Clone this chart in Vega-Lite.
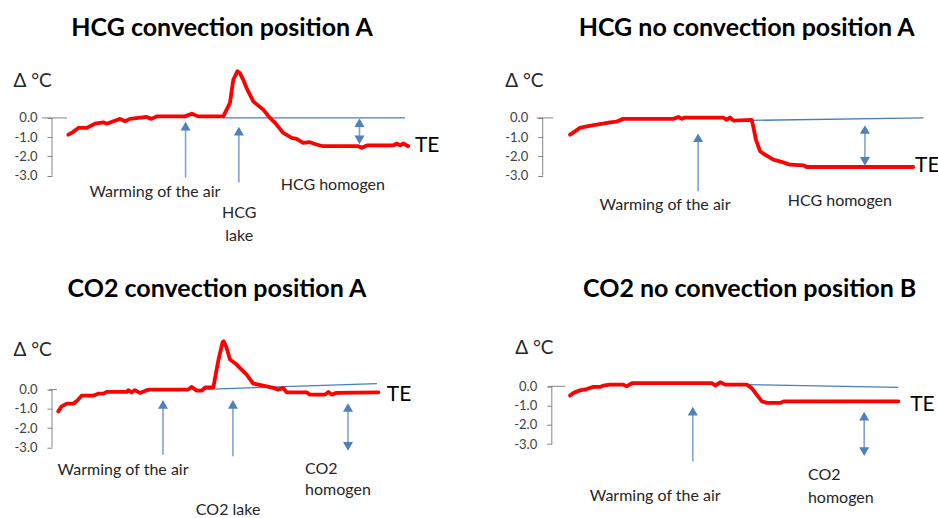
{
  "$schema": "https://vega.github.io/schema/vega-lite/v6.json",
  "padding": {"left": 13, "top": 16, "right": 0, "bottom": 0},
  "background": "white",
  "bounds": "flush",
  "columns": 2,
  "spacing": {"row": 90.7, "column": 120.7},
  "config": {
    "font": "Lato",
    "view": {"stroke": null},
    "title": {"fontSize": 25, "fontWeight": "bold", "color": "#000000", "frame": "group", "anchor": "middle", "font": "Lato"},
    "axis": {"labelFont": "Lato", "labelFontSize": 13, "labelColor": "#404040", "domain": false, "grid": false, "tickColor": "#868686", "tickSize": 5, "labelPadding": 10, "titleFont": "Lato", "titleFontSize": 19, "titleFontWeight": "normal", "titleColor": "#262626", "titleAngle": 0, "titleAlign": "left", "titleBaseline": "middle"}
  },
  "datasets": {
    "curves": [
      {"p":"TL","s":"red","x":4.4,"y":-0.87},{"p":"TL","s":"red","x":5.3,"y":-0.78},{"p":"TL","s":"red","x":7.1,"y":-0.52},{"p":"TL","s":"red","x":9.4,"y":-0.52},{"p":"TL","s":"red","x":11.6,"y":-0.30},{"p":"TL","s":"red","x":13.9,"y":-0.23},{"p":"TL","s":"red","x":14.8,"y":-0.30},{"p":"TL","s":"red","x":16.6,"y":-0.17},{"p":"TL","s":"red","x":18.4,"y":-0.05},{"p":"TL","s":"red","x":19.7,"y":-0.17},{"p":"TL","s":"red","x":21.1,"y":-0.05},{"p":"TL","s":"red","x":25.6,"y":0.05},{"p":"TL","s":"red","x":26.9,"y":-0.05},{"p":"TL","s":"red","x":28.3,"y":0.08},{"p":"TL","s":"red","x":35.9,"y":0.08},{"p":"TL","s":"red","x":37.8,"y":0.22},{"p":"TL","s":"red","x":39.5,"y":0.08},{"p":"TL","s":"red","x":46.3,"y":0.08},{"p":"TL","s":"red","x":48.1,"y":0.78},{"p":"TL","s":"red","x":49.0,"y":1.98},{"p":"TL","s":"red","x":50.1,"y":2.42},{"p":"TL","s":"red","x":50.8,"y":2.33},{"p":"TL","s":"red","x":51.7,"y":1.98},{"p":"TL","s":"red","x":52.6,"y":1.55},{"p":"TL","s":"red","x":54.4,"y":0.86},{"p":"TL","s":"red","x":57.1,"y":0.43},{"p":"TL","s":"red","x":58.9,"y":0.0},{"p":"TL","s":"red","x":60.3,"y":-0.26},{"p":"TL","s":"red","x":62.5,"y":-0.78},{"p":"TL","s":"red","x":64.8,"y":-1.04},{"p":"TL","s":"red","x":66.1,"y":-1.09},{"p":"TL","s":"red","x":67.9,"y":-1.30},{"p":"TL","s":"red","x":69.7,"y":-1.26},{"p":"TL","s":"red","x":71.5,"y":-1.38},{"p":"TL","s":"red","x":73.3,"y":-1.47},{"p":"TL","s":"red","x":82.8,"y":-1.47},{"p":"TL","s":"red","x":83.7,"y":-1.55},{"p":"TL","s":"red","x":85.1,"y":-1.43},{"p":"TL","s":"red","x":92.2,"y":-1.43},{"p":"TL","s":"red","x":93.2,"y":-1.33},{"p":"TL","s":"red","x":94.1,"y":-1.43},{"p":"TL","s":"red","x":94.9,"y":-1.33},{"p":"TL","s":"red","x":96.3,"y":-1.47},
      {"p":"TL","s":"base","x":46.2,"y":0},{"p":"TL","s":"base","x":95.4,"y":0},
      {"p":"TR","s":"red","x":7.2,"y":-0.87},{"p":"TR","s":"red","x":8.1,"y":-0.75},{"p":"TR","s":"red","x":9.8,"y":-0.52},{"p":"TR","s":"red","x":11.6,"y":-0.44},{"p":"TR","s":"red","x":14.2,"y":-0.35},{"p":"TR","s":"red","x":15.9,"y":-0.30},{"p":"TR","s":"red","x":17.7,"y":-0.23},{"p":"TR","s":"red","x":19.5,"y":-0.19},{"p":"TR","s":"red","x":21.2,"y":-0.05},{"p":"TR","s":"red","x":34.4,"y":-0.05},{"p":"TR","s":"red","x":35.7,"y":0.05},{"p":"TR","s":"red","x":36.6,"y":-0.05},{"p":"TR","s":"red","x":37.4,"y":0.02},{"p":"TR","s":"red","x":47.5,"y":0.02},{"p":"TR","s":"red","x":48.4,"y":-0.10},{"p":"TR","s":"red","x":49.3,"y":0.02},{"p":"TR","s":"red","x":50.2,"y":-0.14},{"p":"TR","s":"red","x":55.0,"y":-0.10},{"p":"TR","s":"red","x":55.4,"y":-0.44},{"p":"TR","s":"red","x":56.1,"y":-1.13},{"p":"TR","s":"red","x":57.2,"y":-1.73},{"p":"TR","s":"red","x":58.5,"y":-1.91},{"p":"TR","s":"red","x":60.7,"y":-2.17},{"p":"TR","s":"red","x":63.3,"y":-2.31},{"p":"TR","s":"red","x":65.1,"y":-2.43},{"p":"TR","s":"red","x":68.6,"y":-2.46},{"p":"TR","s":"red","x":69.5,"y":-2.55},{"p":"TR","s":"red","x":97.5,"y":-2.55},
      {"p":"TR","s":"base","x":51.1,"y":-0.14},{"p":"TR","s":"base","x":100.2,"y":0},
      {"p":"BL","s":"red","x":1.7,"y":-1.13},{"p":"BL","s":"red","x":2.6,"y":-0.87},{"p":"BL","s":"red","x":4.0,"y":-0.73},{"p":"BL","s":"red","x":5.8,"y":-0.73},{"p":"BL","s":"red","x":7.1,"y":-0.52},{"p":"BL","s":"red","x":8.0,"y":-0.31},{"p":"BL","s":"red","x":11.2,"y":-0.31},{"p":"BL","s":"red","x":12.5,"y":-0.21},{"p":"BL","s":"red","x":13.9,"y":-0.21},{"p":"BL","s":"red","x":14.8,"y":-0.12},{"p":"BL","s":"red","x":20.2,"y":-0.12},{"p":"BL","s":"red","x":20.6,"y":-0.03},{"p":"BL","s":"red","x":21.5,"y":-0.14},{"p":"BL","s":"red","x":22.4,"y":-0.03},{"p":"BL","s":"red","x":23.8,"y":-0.17},{"p":"BL","s":"red","x":25.6,"y":-0.03},{"p":"BL","s":"red","x":26.5,"y":0},{"p":"BL","s":"red","x":36.8,"y":0},{"p":"BL","s":"red","x":37.7,"y":0.14},{"p":"BL","s":"red","x":39.1,"y":-0.05},{"p":"BL","s":"red","x":40.5,"y":-0.05},{"p":"BL","s":"red","x":41.4,"y":0.12},{"p":"BL","s":"red","x":43.6,"y":0.12},{"p":"BL","s":"red","x":45.0,"y":1.56},{"p":"BL","s":"red","x":46.1,"y":2.46},{"p":"BL","s":"red","x":46.4,"y":2.51},{"p":"BL","s":"red","x":47.2,"y":2.16},{"p":"BL","s":"red","x":48.1,"y":1.56},{"p":"BL","s":"red","x":49.9,"y":1.30},{"p":"BL","s":"red","x":52.6,"y":0.78},{"p":"BL","s":"red","x":54.4,"y":0.31},{"p":"BL","s":"red","x":57.1,"y":0.21},{"p":"BL","s":"red","x":59.8,"y":0.09},{"p":"BL","s":"red","x":61.2,"y":0},{"p":"BL","s":"red","x":62.5,"y":0.09},{"p":"BL","s":"red","x":63.4,"y":-0.14},{"p":"BL","s":"red","x":68.8,"y":-0.14},{"p":"BL","s":"red","x":69.7,"y":-0.26},{"p":"BL","s":"red","x":73.8,"y":-0.26},{"p":"BL","s":"red","x":74.7,"y":-0.12},{"p":"BL","s":"red","x":75.6,"y":-0.26},{"p":"BL","s":"red","x":76.9,"y":-0.17},{"p":"BL","s":"red","x":88.2,"y":-0.14},
      {"p":"BL","s":"base","x":39.1,"y":0},{"p":"BL","s":"base","x":87.8,"y":0.31},
      {"p":"BR","s":"red","x":4.8,"y":-0.48},{"p":"BR","s":"red","x":5.7,"y":-0.34},{"p":"BR","s":"red","x":7.4,"y":-0.21},{"p":"BR","s":"red","x":9.2,"y":-0.14},{"p":"BR","s":"red","x":10.9,"y":-0.03},{"p":"BR","s":"red","x":12.7,"y":-0.03},{"p":"BR","s":"red","x":13.6,"y":0.04},{"p":"BR","s":"red","x":15.3,"y":0.09},{"p":"BR","s":"red","x":18.8,"y":0.09},{"p":"BR","s":"red","x":19.7,"y":0},{"p":"BR","s":"red","x":21.1,"y":0.17},{"p":"BR","s":"red","x":42.1,"y":0.17},{"p":"BR","s":"red","x":43.0,"y":0.04},{"p":"BR","s":"red","x":44.3,"y":0.21},{"p":"BR","s":"red","x":45.6,"y":0.09},{"p":"BR","s":"red","x":51.3,"y":0.09},{"p":"BR","s":"red","x":52.6,"y":-0.09},{"p":"BR","s":"red","x":53.9,"y":-0.43},{"p":"BR","s":"red","x":55.3,"y":-0.78},{"p":"BR","s":"red","x":56.6,"y":-0.86},{"p":"BR","s":"red","x":60.1,"y":-0.86},{"p":"BR","s":"red","x":61.0,"y":-0.78},{"p":"BR","s":"red","x":91.2,"y":-0.78},
      {"p":"BR","s":"base","x":51.3,"y":0.09},{"p":"BR","s":"base","x":91.2,"y":-0.05}
    ],
    "axisLines": [
      {"p":"TL","x":0,"x2":0,"y":0,"y2":-3},{"p":"TL","x":-2.7,"x2":4.05,"y":0,"y2":0},
      {"p":"TR","x":0,"x2":0,"y":0,"y2":-3},{"p":"TR","x":-1.6,"x2":2.8,"y":0,"y2":0},
      {"p":"BL","x":0,"x2":0,"y":0,"y2":-3},{"p":"BL","x":-0.8,"x2":1.35,"y":0,"y2":0},
      {"p":"BR","x":0,"x2":0,"y":0,"y2":-3},{"p":"BR","x":-1,"x2":3.5,"y":0,"y2":0}
    ],
    "arrows": [
      {"p":"TL","x":36.1,"y":-3.1,"y2":-0.43},{"p":"TL","x":50.5,"y":-3.36,"y2":-0.69},{"p":"TL","x":83.1,"y":-0.25,"y2":-1.14},
      {"p":"TR","x":40.9,"y":-3.81,"y2":-1.03},{"p":"TR","x":84.8,"y":-0.6,"y2":-2.26},
      {"p":"BL","x":30,"y":-3.38,"y2":-0.77},{"p":"BL","x":48.9,"y":-3.46,"y2":-0.77},{"p":"BL","x":80,"y":-0.93,"y2":-2.95},
      {"p":"BR","x":37.1,"y":-3.9,"y2":-1.29},{"p":"BR","x":82.2,"y":-1.55,"y2":-3.39}
    ],
    "heads": [
      {"p":"TL","x":36.1,"y":-0.43,"d":"up"},{"p":"TL","x":50.5,"y":-0.69,"d":"up"},{"p":"TL","x":83.1,"y":-0.25,"d":"up"},{"p":"TL","x":83.1,"y":-1.14,"d":"down"},
      {"p":"TR","x":40.9,"y":-1.03,"d":"up"},{"p":"TR","x":84.8,"y":-0.6,"d":"up"},{"p":"TR","x":84.8,"y":-2.26,"d":"down"},
      {"p":"BL","x":30,"y":-0.77,"d":"up"},{"p":"BL","x":48.9,"y":-0.77,"d":"up"},{"p":"BL","x":80,"y":-0.93,"d":"up"},{"p":"BL","x":80,"y":-2.95,"d":"down"},
      {"p":"BR","x":37.1,"y":-1.29,"d":"up"},{"p":"BR","x":82.2,"y":-1.55,"d":"up"},{"p":"BR","x":82.2,"y":-3.39,"d":"down"}
    ],
    "labels": [
      {"p":"TL","k":"c","x":27.8,"y":-3.86,"t":"Warming of the air"},{"p":"TL","k":"c","x":75.9,"y":-3.46,"t":"HCG homogen"},{"p":"TL","k":"c","x":50.6,"y":-4.93,"t":"HCG"},{"p":"TL","k":"c","x":50.6,"y":-6.11,"t":"lake"},{"p":"TL","k":"te","x":98.1,"y":-1.47,"t":"TE"},
      {"p":"TR","k":"c","x":32.2,"y":-4.5,"t":"Warming of the air"},{"p":"TR","k":"c","x":78.2,"y":-4.33,"t":"HCG homogen"},{"p":"TR","k":"te","x":98.0,"y":-2.51,"t":"TE"},
      {"p":"BL","k":"c","x":19.2,"y":-4.19,"t":"Warming of the air"},{"p":"BL","k":"c","x":47.6,"y":-6.23,"t":"CO2 lake"},{"p":"BL","k":"l","x":68.4,"y":-4.1,"t":"CO2"},{"p":"BL","k":"l","x":68.4,"y":-5.2,"t":"homogen"},{"p":"BL","k":"te","x":90.5,"y":-0.26,"t":"TE"},
      {"p":"BR","k":"c","x":27.2,"y":-5.71,"t":"Warming of the air"},{"p":"BR","k":"l","x":67.4,"y":-4.59,"t":"CO2"},{"p":"BR","k":"l","x":67.4,"y":-5.8,"t":"homogen"},{"p":"BR","k":"te","x":94.3,"y":-0.95,"t":"TE"}
    ]
  },
  "concat": [
    {
      "width": 370, "height": 181,
      "title": {"text": "HCG convection position A", "dx": -15, "offset": 23},
      "encoding": {
        "x": {"field": "x", "type": "quantitative", "scale": {"domain": [0, 100], "nice": false, "zero": false}, "axis": null},
        "y": {"field": "y", "type": "quantitative", "scale": {"domain": [-6.6, 2.8], "nice": false, "zero": false},
              "axis": {"values": [0, -1, -2, -3], "labelExpr": "datum.value == 0 ? '0.0' : '-' + format(abs(datum.value), '.1f')", "title": "Δ °C", "titleX": -39, "titleY": 16}}
      },
      "layer": [
        {"data": {"name": "axisLines"}, "transform": [{"filter": "datum.p == 'TL'"}], "mark": {"type": "rule", "color": "#868686", "strokeWidth": 1}, "encoding": {"x2": {"field": "x2"}, "y2": {"field": "y2"}}},
        {"data": {"name": "curves"}, "transform": [{"filter": "datum.p == 'TL' && datum.s == 'base'"}], "mark": {"type": "line", "color": "#4a7ebb", "strokeWidth": 1.3}},
        {"data": {"name": "curves"}, "transform": [{"filter": "datum.p == 'TL' && datum.s == 'red'"}], "mark": {"type": "line", "color": "#ff0000", "strokeWidth": 3.8, "strokeJoin": "round", "strokeCap": "round"}},
        {"data": {"name": "arrows"}, "transform": [{"filter": "datum.p == 'TL'"}], "mark": {"type": "rule", "color": "#7fa4d6", "strokeWidth": 1.6}, "encoding": {"y2": {"field": "y2"}}},
        {"data": {"name": "heads"}, "transform": [{"filter": "datum.p == 'TL'"}], "mark": {"type": "point", "filled": true, "color": "#4f81bd", "size": 100, "opacity": 1}, "encoding": {"shape": {"field": "d", "type": "nominal", "scale": {"domain": ["up", "down"], "range": ["triangle-up", "triangle-down"]}, "legend": null}}},
        {"data": {"name": "labels"}, "transform": [{"filter": "datum.p == 'TL' && datum.k == 'c'"}], "mark": {"type": "text", "fontSize": 16, "color": "#262626", "align": "center", "baseline": "middle"}, "encoding": {"text": {"field": "t"}}},
        {"data": {"name": "labels"}, "transform": [{"filter": "datum.p == 'TL' && datum.k == 'l'"}], "mark": {"type": "text", "fontSize": 16, "color": "#262626", "align": "left", "baseline": "middle"}, "encoding": {"text": {"field": "t"}}},
        {"data": {"name": "labels"}, "transform": [{"filter": "datum.p == 'TL' && datum.k == 'te'"}], "mark": {"type": "text", "fontSize": 21, "color": "#000000", "align": "left", "baseline": "middle"}, "encoding": {"text": {"field": "t"}}}
      ]
    },
    {
      "width": 380, "height": 181,
      "title": {"text": "HCG no convection position A", "dx": 14, "offset": 23},
      "encoding": {
        "x": {"field": "x", "type": "quantitative", "scale": {"domain": [0, 100], "nice": false, "zero": false}, "axis": null},
        "y": {"field": "y", "type": "quantitative", "scale": {"domain": [-6.6, 2.8], "nice": false, "zero": false},
              "axis": {"values": [0, -1, -2, -3], "labelExpr": "datum.value == 0 ? '0.0' : '-' + format(abs(datum.value), '.1f')", "title": "Δ °C", "titleX": -38, "titleY": 16}}
      },
      "layer": [
        {"data": {"name": "axisLines"}, "transform": [{"filter": "datum.p == 'TR'"}], "mark": {"type": "rule", "color": "#868686", "strokeWidth": 1}, "encoding": {"x2": {"field": "x2"}, "y2": {"field": "y2"}}},
        {"data": {"name": "curves"}, "transform": [{"filter": "datum.p == 'TR' && datum.s == 'base'"}], "mark": {"type": "line", "color": "#4a7ebb", "strokeWidth": 1.3}},
        {"data": {"name": "curves"}, "transform": [{"filter": "datum.p == 'TR' && datum.s == 'red'"}], "mark": {"type": "line", "color": "#ff0000", "strokeWidth": 3.8, "strokeJoin": "round", "strokeCap": "round"}},
        {"data": {"name": "arrows"}, "transform": [{"filter": "datum.p == 'TR'"}], "mark": {"type": "rule", "color": "#7fa4d6", "strokeWidth": 1.6}, "encoding": {"y2": {"field": "y2"}}},
        {"data": {"name": "heads"}, "transform": [{"filter": "datum.p == 'TR'"}], "mark": {"type": "point", "filled": true, "color": "#4f81bd", "size": 100, "opacity": 1}, "encoding": {"shape": {"field": "d", "type": "nominal", "scale": {"domain": ["up", "down"], "range": ["triangle-up", "triangle-down"]}, "legend": null}}},
        {"data": {"name": "labels"}, "transform": [{"filter": "datum.p == 'TR' && datum.k == 'c'"}], "mark": {"type": "text", "fontSize": 16, "color": "#262626", "align": "center", "baseline": "middle"}, "encoding": {"text": {"field": "t"}}},
        {"data": {"name": "labels"}, "transform": [{"filter": "datum.p == 'TR' && datum.k == 'l'"}], "mark": {"type": "text", "fontSize": 16, "color": "#262626", "align": "left", "baseline": "middle"}, "encoding": {"text": {"field": "t"}}},
        {"data": {"name": "labels"}, "transform": [{"filter": "datum.p == 'TR' && datum.k == 'te'"}], "mark": {"type": "text", "fontSize": 21, "color": "#000000", "align": "left", "baseline": "middle"}, "encoding": {"text": {"field": "t"}}}
      ]
    },
    {
      "width": 370, "height": 181,
      "title": {"text": "CO2 convection position A", "dx": -20, "offset": 34},
      "encoding": {
        "x": {"field": "x", "type": "quantitative", "scale": {"domain": [0, 100], "nice": false, "zero": false}, "axis": null},
        "y": {"field": "y", "type": "quantitative", "scale": {"domain": [-6.6, 2.8], "nice": false, "zero": false},
              "axis": {"values": [0, -1, -2, -3], "labelExpr": "datum.value == 0 ? '0.0' : '-' + format(abs(datum.value), '.1f')", "title": "Δ °C", "titleX": -39, "titleY": 14}}
      },
      "layer": [
        {"data": {"name": "axisLines"}, "transform": [{"filter": "datum.p == 'BL'"}], "mark": {"type": "rule", "color": "#868686", "strokeWidth": 1}, "encoding": {"x2": {"field": "x2"}, "y2": {"field": "y2"}}},
        {"data": {"name": "curves"}, "transform": [{"filter": "datum.p == 'BL' && datum.s == 'base'"}], "mark": {"type": "line", "color": "#4a7ebb", "strokeWidth": 1.3}},
        {"data": {"name": "curves"}, "transform": [{"filter": "datum.p == 'BL' && datum.s == 'red'"}], "mark": {"type": "line", "color": "#ff0000", "strokeWidth": 3.8, "strokeJoin": "round", "strokeCap": "round"}},
        {"data": {"name": "arrows"}, "transform": [{"filter": "datum.p == 'BL'"}], "mark": {"type": "rule", "color": "#7fa4d6", "strokeWidth": 1.6}, "encoding": {"y2": {"field": "y2"}}},
        {"data": {"name": "heads"}, "transform": [{"filter": "datum.p == 'BL'"}], "mark": {"type": "point", "filled": true, "color": "#4f81bd", "size": 100, "opacity": 1}, "encoding": {"shape": {"field": "d", "type": "nominal", "scale": {"domain": ["up", "down"], "range": ["triangle-up", "triangle-down"]}, "legend": null}}},
        {"data": {"name": "labels"}, "transform": [{"filter": "datum.p == 'BL' && datum.k == 'c'"}], "mark": {"type": "text", "fontSize": 16, "color": "#262626", "align": "center", "baseline": "middle"}, "encoding": {"text": {"field": "t"}}},
        {"data": {"name": "labels"}, "transform": [{"filter": "datum.p == 'BL' && datum.k == 'l'"}], "mark": {"type": "text", "fontSize": 16, "color": "#262626", "align": "left", "baseline": "middle"}, "encoding": {"text": {"field": "t"}}},
        {"data": {"name": "labels"}, "transform": [{"filter": "datum.p == 'BL' && datum.k == 'te'"}], "mark": {"type": "text", "fontSize": 21, "color": "#000000", "align": "left", "baseline": "middle"}, "encoding": {"text": {"field": "t"}}}
      ]
    },
    {
      "width": 380, "height": 181,
      "title": {"text": "CO2 no convection position B", "dx": 17, "offset": 34},
      "encoding": {
        "x": {"field": "x", "type": "quantitative", "scale": {"domain": [-2.4, 97.6], "nice": false, "zero": false}, "axis": null},
        "y": {"field": "y", "type": "quantitative", "scale": {"domain": [-6.77, 2.63], "nice": false, "zero": false},
              "axis": {"values": [0, -1, -2, -3], "offset": -9, "labelExpr": "datum.value == 0 ? '0.0' : '-' + format(abs(datum.value), '.1f')", "title": "Δ °C", "titleX": -37, "titleY": 12}}
      },
      "layer": [
        {"data": {"name": "axisLines"}, "transform": [{"filter": "datum.p == 'BR'"}], "mark": {"type": "rule", "color": "#868686", "strokeWidth": 1}, "encoding": {"x2": {"field": "x2"}, "y2": {"field": "y2"}}},
        {"data": {"name": "curves"}, "transform": [{"filter": "datum.p == 'BR' && datum.s == 'base'"}], "mark": {"type": "line", "color": "#4a7ebb", "strokeWidth": 1.3}},
        {"data": {"name": "curves"}, "transform": [{"filter": "datum.p == 'BR' && datum.s == 'red'"}], "mark": {"type": "line", "color": "#ff0000", "strokeWidth": 3.8, "strokeJoin": "round", "strokeCap": "round"}},
        {"data": {"name": "arrows"}, "transform": [{"filter": "datum.p == 'BR'"}], "mark": {"type": "rule", "color": "#7fa4d6", "strokeWidth": 1.6}, "encoding": {"y2": {"field": "y2"}}},
        {"data": {"name": "heads"}, "transform": [{"filter": "datum.p == 'BR'"}], "mark": {"type": "point", "filled": true, "color": "#4f81bd", "size": 100, "opacity": 1}, "encoding": {"shape": {"field": "d", "type": "nominal", "scale": {"domain": ["up", "down"], "range": ["triangle-up", "triangle-down"]}, "legend": null}}},
        {"data": {"name": "labels"}, "transform": [{"filter": "datum.p == 'BR' && datum.k == 'c'"}], "mark": {"type": "text", "fontSize": 16, "color": "#262626", "align": "center", "baseline": "middle"}, "encoding": {"text": {"field": "t"}}},
        {"data": {"name": "labels"}, "transform": [{"filter": "datum.p == 'BR' && datum.k == 'l'"}], "mark": {"type": "text", "fontSize": 16, "color": "#262626", "align": "left", "baseline": "middle"}, "encoding": {"text": {"field": "t"}}},
        {"data": {"name": "labels"}, "transform": [{"filter": "datum.p == 'BR' && datum.k == 'te'"}], "mark": {"type": "text", "fontSize": 21, "color": "#000000", "align": "left", "baseline": "middle"}, "encoding": {"text": {"field": "t"}}}
      ]
    }
  ]
}
